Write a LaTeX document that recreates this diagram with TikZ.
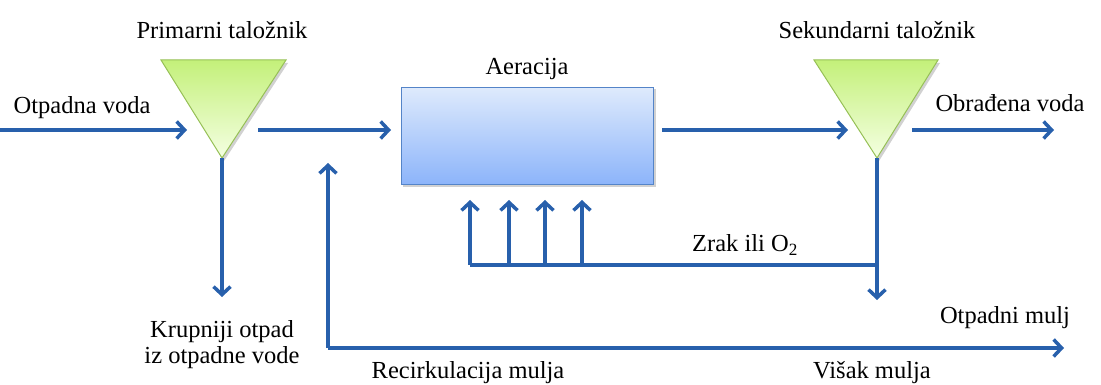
\documentclass[tikz,border=0pt]{standalone}
\usepackage{fontspec}
\setmainfont{Liberation Serif}
\usetikzlibrary{arrows.meta}
\definecolor{flow}{RGB}{40,96,172}
\definecolor{trifill1}{RGB}{196,240,122}
\definecolor{trifill2}{RGB}{244,255,226}
\definecolor{triedge}{RGB}{150,192,86}
\definecolor{boxfill1}{RGB}{222,234,252}
\definecolor{boxfill2}{RGB}{140,180,250}
\definecolor{boxedge}{RGB}{84,132,200}
\tikzset{
  flowline/.style={draw=flow, line width=3.5pt},
  flowarrow/.style={flowline, -{Straight Barb[length=8pt,width=17pt,line width=3.5pt]}},
  lbl/.style={font=\fontsize{24.5}{28}\selectfont, inner sep=0pt, text=black},
  tank/.style={draw=triedge, line width=1pt, top color=trifill1, bottom color=trifill2},
  basin/.style={draw=boxedge, line width=1.2pt, top color=boxfill1, bottom color=boxfill2},
  shadowfill/.style={fill=black, opacity=0.18}
}
\begin{document}
\begin{tikzpicture}[x=1pt,y=-1pt]
\useasboundingbox (0,0) rectangle (1101,385);
% coordinates
\coordinate (p1L) at (161,60); \coordinate (p1R) at (286,60); \coordinate (p1A) at (222,158);
\coordinate (p2L) at (814,60); \coordinate (p2R) at (938,60); \coordinate (p2A) at (877,158);
% shadows
\fill[shadowfill] (163,63) -- (288,63) -- (224,161) -- cycle;
\fill[shadowfill] (816,63) -- (940,63) -- (879,161) -- cycle;
\fill[shadowfill] (403,89) rectangle (656,187);
% tanks
\path[tank] (p1L) -- (p1R) -- (p1A) -- cycle;
\path[tank] (p2L) -- (p2R) -- (p2A) -- cycle;
% aeration
\node[basin, minimum width=252pt, minimum height=97pt, inner sep=0pt, anchor=north west] (aer) at (401,87) {};
% labels
\node[lbl] (tPrim) at (222,30) {Primarni taložnik};
\node[lbl] (tSek) at (877,30) {Sekundarni taložnik};
\node[lbl] (tAer) at (527,69) {Aeracija};
\node[lbl] (tIn) at (82,108) {Otpadna voda};
\node[lbl] (tOut) at (1010,103) {Obrađena voda};
\node[lbl] (tZrak) at (745,245) {Zrak ili O\textsubscript{2}};
\node[lbl, align=center] (tKrup) at (222,345) {Krupniji otpad\\[-2pt]iz otpadne vode};
\node[lbl] (tOtm) at (1005,318) {Otpadni mulj};
\node[lbl, anchor=base] (tRec) at (468,378) {Recirkulacija mulja};
\node[lbl, anchor=base] (tVis) at (872,378) {Višak mulja};
% flow coordinates
\coordinate (inS) at (0,130); \coordinate (inE) at (187,130);
\coordinate (m1S) at (258,130); \coordinate (m1E) at (391,130);
\coordinate (m2S) at (662,130); \coordinate (m2E) at (848,130);
\coordinate (oS) at (912,130); \coordinate (oE) at (1054,130);
\coordinate (d1E) at (222,297);
\coordinate (d2E) at (877,300);
\coordinate (airL) at (470,265); \coordinate (airR) at (877,265);
\coordinate (a1) at (470,200); \coordinate (a2) at (509,200); \coordinate (a3) at (545,200); \coordinate (a4) at (582,200);
\coordinate (recT) at (328,163); \coordinate (recB) at (328,348); \coordinate (recE) at (1064,348);
% connectors
\draw[flowarrow] (inS) -- (inE);
\draw[flowarrow] (m1S) -- (m1E);
\draw[flowarrow] (m2S) -- (m2E);
\draw[flowarrow] (oS) -- (oE);
\draw[flowarrow] (p1A) -- (d1E);
\draw[flowarrow] (p2A) -- (d2E);
\draw[flowline] (airR) -- (airL);
\draw[flowarrow] (airL) -- (a1);
\draw[flowarrow] (airL -| a2) -- (a2);
\draw[flowarrow] (airL -| a3) -- (a3);
\draw[flowarrow] (airL -| a4) -- (a4);
\draw[flowarrow] (recE -| recB) -- (recT);
\draw[flowarrow] (recB) -- (recE);
\end{tikzpicture}
\end{document}
